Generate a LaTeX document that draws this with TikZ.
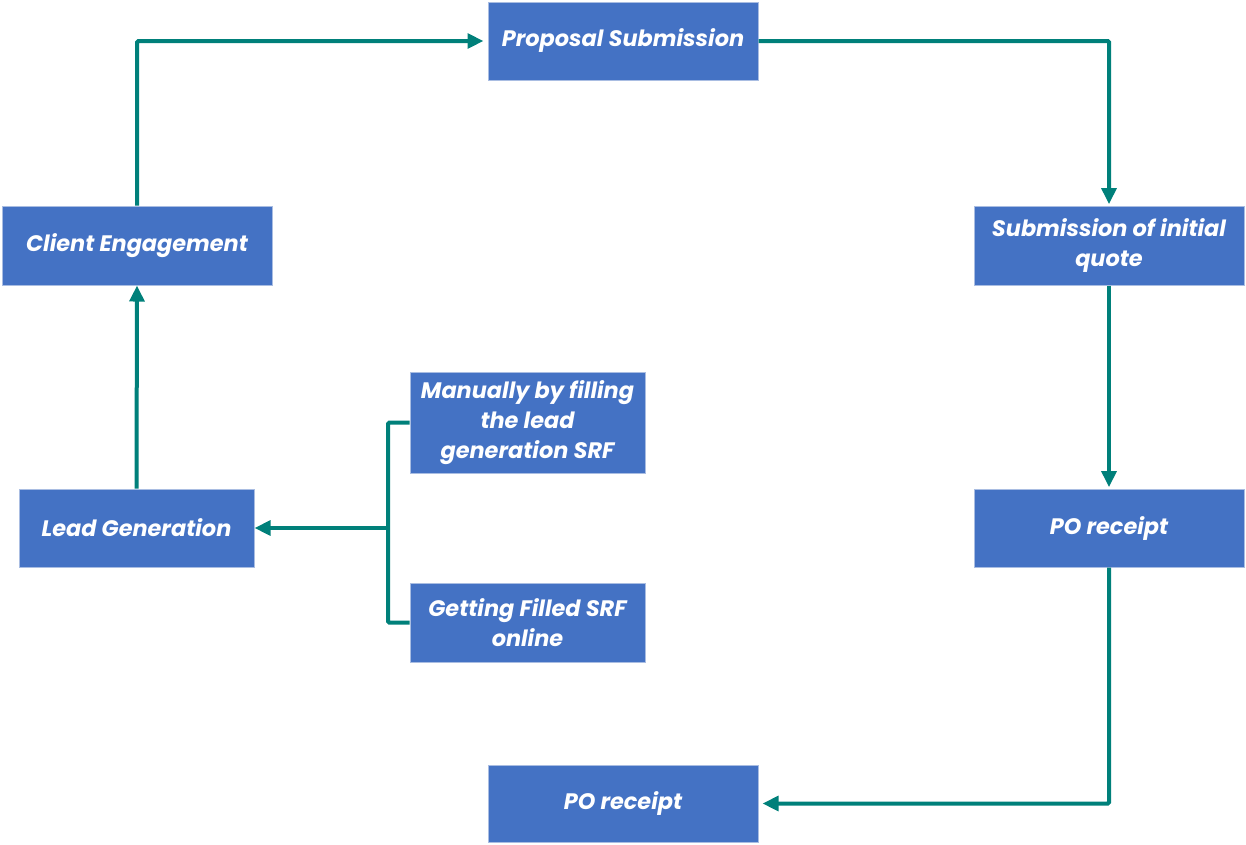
\documentclass[tikz,border=0pt]{standalone}
\usepackage{fontspec}
\setmainfont{Poppins}
\usetikzlibrary{arrows.meta,calc}
\definecolor{boxblue}{HTML}{4472C4}
\definecolor{boxedge}{HTML}{A9BDE2}
\definecolor{teal2}{HTML}{00807A}
\begin{document}
\begin{tikzpicture}[x=0.75pt,y=-0.75pt,
  box/.style={fill=boxblue,draw=boxedge,line width=0.75pt,inner sep=0pt,
    text=white,font=\fontsize{16.8}{22.2}\selectfont\bfseries\itshape,align=center},
  conn/.style={draw=teal2,line width=3pt},
  arr/.style={conn,-{Triangle[length=12pt,width=11pt]}}]
\useasboundingbox (0,0) rectangle (1246,844);
\node[box,minimum width=270*0.75pt,minimum height=78*0.75pt] (PS) at (623,41) {Proposal Submission};
\node[box,minimum width=270*0.75pt,minimum height=79*0.75pt] (CE) at (137,245.5) {Client Engagement};
\node[box,minimum width=270*0.75pt,minimum height=79*0.75pt] (SQ) at (1109,245.5) {Submission of initial\\quote};
\node[box,minimum width=235*0.75pt,minimum height=101*0.75pt] (MF) at (527.5,422.5) {Manually by filling\\the lead\\generation SRF};
\node[box,minimum width=235*0.75pt,minimum height=78*0.75pt] (LG) at (136.5,528) {Lead Generation};
\node[box,minimum width=270*0.75pt,minimum height=78*0.75pt] (PO1) at (1109,528) {PO receipt};
\node[box,minimum width=235*0.75pt,minimum height=79*0.75pt] (GF) at (527.5,622.5) {Getting Filled SRF\\online};
\node[box,minimum width=270*0.75pt,minimum height=77*0.75pt] (PO2) at (623,803.5) {PO receipt};
\coordinate (J) at (388,528);
\draw[arr,rounded corners=1pt] (CE.north) |- ([xshift=-3pt]PS.west);
\draw[arr,rounded corners=1pt] (PS.east) -| ([yshift=1pt]SQ.north);
\draw[arr] (SQ.south) -- ([yshift=1pt]PO1.north);
\draw[arr,rounded corners=1pt] (PO1.south) |- ([xshift=3pt]PO2.east);
\draw[arr] (LG.north) -- (CE.south);
\draw[conn,rounded corners=1pt] (MF.west) -| (J) |- (GF.west);
\draw[arr] (J) -- (LG.east);
\end{tikzpicture}
\end{document}
